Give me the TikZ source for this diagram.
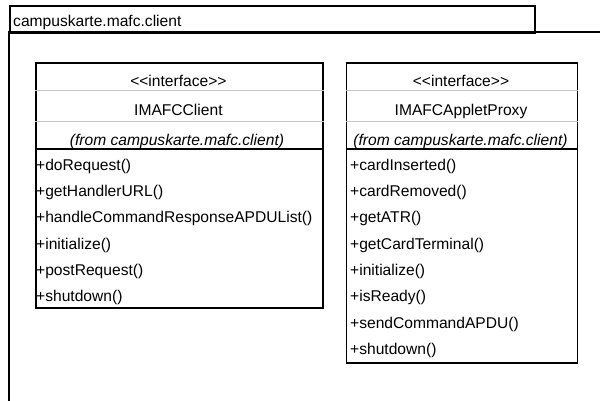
\documentclass[tikz,border=0pt]{standalone}
\usepackage{fontspec}
\setmainfont{Liberation Sans}
\begin{document}
\begin{tikzpicture}[x=1pt,y=-1pt,
  font=\fontsize{15.6}{18}\selectfont,
  frame/.style={draw=black, line width=1.9pt},
  classbox/.style={draw=black, line width=1.9pt, fill=white, rectangle, anchor=north west, inner sep=0pt},
  sep/.style={draw=black!22, line width=1pt},
  opsep/.style={draw=black, line width=1.5pt},
  lbl/.style={anchor=base, inner sep=0pt},
  op/.style={anchor=base west, inner sep=0pt}]
\useasboundingbox (0,0) rectangle (600,400);
\clip (0,0) rectangle (600,400);
\fill[white] (0,0) rectangle (600,400);

% package frame with its name tab
\draw[frame] (9,31.7) rectangle (640,440);
\node[frame, rectangle, anchor=north west, inner sep=0pt,
      minimum width=525pt, minimum height=26.7pt] (pkgtab) at (9,5) {};
\node[op] (pkgname) at (13,26) {campuskarte.mafc.client};

% interface IMAFCClient
\node[classbox, minimum width=287.3pt, minimum height=245pt] (client) at (34.7,62) {};
\draw[sep] (client.west |- 0,90) -- (client.east |- 0,90);
\draw[sep] (client.west |- 0,121.7) -- (client.east |- 0,121.7);
\draw[opsep] (client.west |- 0,149) -- (client.east |- 0,149);
\node[lbl] (clientst) at (178.4,86) {{<}{<}interface{>}{>}};
\node[lbl] (clientnm) at (178.4,115.5) {IMAFCClient};
\node[lbl] (clientfr) at (177,145) {\itshape (from campuskarte.mafc.client)};
\foreach \m [count=\i from 0] in {doRequest,getHandlerURL,handleCommandResponseAPDUList,initialize,postRequest,shutdown}
  \node[op] (clientop\i) at (36,170.3+26.3*\i) {+\m()};

% interface IMAFCAppletProxy
\node[classbox, minimum width=231pt, minimum height=300pt] (proxy) at (345.5,62) {};
\draw[sep] (proxy.west |- 0,90) -- (proxy.east |- 0,90);
\draw[sep] (proxy.west |- 0,121.7) -- (proxy.east |- 0,121.7);
\draw[opsep] (proxy.west |- 0,149) -- (proxy.east |- 0,149);
\node[lbl] (proxyst) at (461,86) {{<}{<}interface{>}{>}};
\node[lbl] (proxynm) at (461,115.5) {IMAFCAppletProxy};
\node[lbl] (proxyfr) at (460.5,145) {\itshape (from campuskarte.mafc.client)};
\foreach \m [count=\i from 0] in {cardInserted,cardRemoved,getATR,getCardTerminal,initialize,isReady,sendCommandAPDU,shutdown}
  \node[op] (proxyop\i) at (350,170.3+26.3*\i) {+\m()};
\end{tikzpicture}
\end{document}
